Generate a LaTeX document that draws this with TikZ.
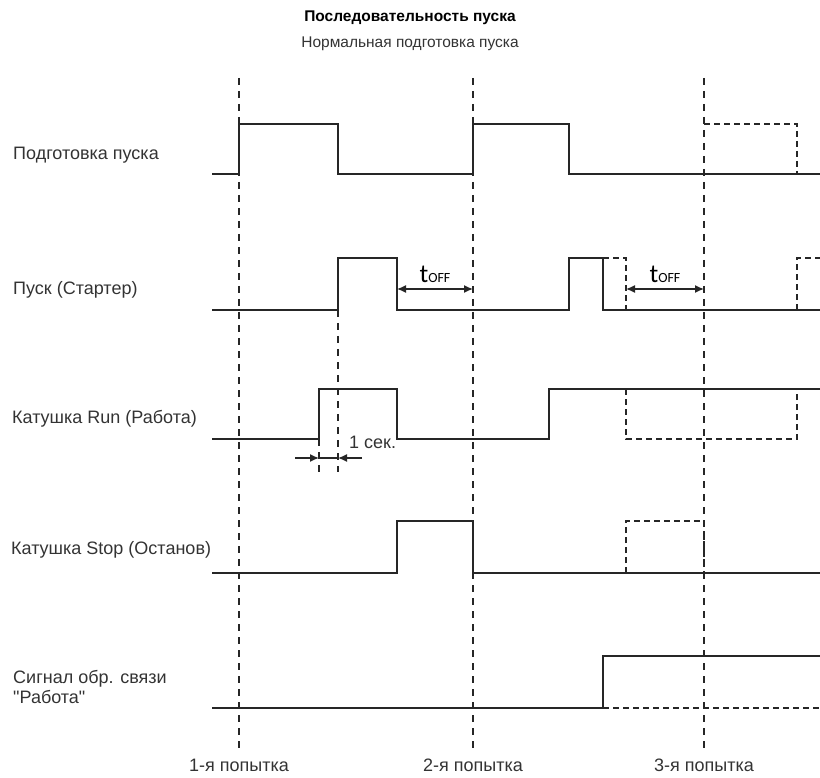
\documentclass[tikz,border=0pt]{standalone}
\usepackage{fontspec}
\setmainfont{Liberation Sans}
\newfontfamily\toffont{Carlito}
\usetikzlibrary{arrows.meta}
\colorlet{wave line}{black!85}
\colorlet{label text}{black!80}
\def\toff{{\toffont\fontsize{26}{26}\selectfont t\fontsize{14}{14}\selectfont OFF}}
\tikzset{signal/.style={draw=wave line, line width=1.6pt},
    option/.style={signal, dash pattern=on 6pt off 4pt},
    guide/.style={draw=wave line, line width=1.5pt, dash pattern=on 7pt off 6pt},
    measure/.style={draw=wave line, line width=1.4pt, -{Latex[length=9pt, width=8pt]}},
    rowlabel/.style={anchor=west, inner sep=0pt, text=label text, align=left,
        font=\fontsize{18}{20}\selectfont},
    trylabel/.style={anchor=base, inner sep=0pt, text=label text,
        font=\fontsize{18}{20}\selectfont}}

\begin{document}
\begin{tikzpicture}[x=1pt, y=-1pt]
    \useasboundingbox (0,0) rectangle (820,778);
    % titles
    \node[inner sep=0pt, font=\bfseries\fontsize{15.5}{18}\selectfont] (title) at (410,18)
      {Последовательность пуска};
    \node[inner sep=0pt, font=\fontsize{15.5}{18}\selectfont, text=label text] (subtitle) at (410,44)
      {Нормальная подготовка пуска};
    % attempts
    \foreach \x/\n in {239/1, 473/2, 704/3} {
        \draw[guide] (\x,78) -- (\x,752);
        \node[trylabel] (try \n) at (\x,771) {\n-я попытка};
    }
    % row labels
    \node[rowlabel] (prep)  at (13,155) {Подготовка пуска};
    \node[rowlabel] (start) at (13,290) {Пуск (Стартер)};
    \node[rowlabel] (run)   at (12,419) {Катушка Run (Работа)};
    \node[rowlabel] (stop)  at (11,550) {Катушка Stop (Останов)};
    \node[rowlabel] (fb)    at (13,687) {Сигнал обр. связи\\\textquotedbl Работа\textquotedbl};
    % waveforms
    \draw[signal] (212,174) -| (239,124) -| (338,174) -| (473,124) -| (569,174) -- (820,174);
    \draw[option] (704,124) -| (797,174);
    \draw[signal] (212,310) -| (338,258) -| (397,310) -| (569,258) -| (603,310) -- (820,310);
    \draw[option] (603,258) -| (626,310);
    \draw[option] (797,310) |- (820,258);
    \draw[signal] (212,439) -| (319,389) -| (397,439) -| (549,389) -- (820,389);
    \draw[option] (626,389) |- (797,439) -- (797,389);
    \draw[signal] (212,573) -| (397,521) -| (473,573) -- (820,573);
    \draw[option] (626,573) |- (704,521) -- (704,573);
    \draw[signal] (212,708) -| (603,656) -- (820,656);
    \draw[option] (603,708) -- (820,708);
    % t off
    \coordinate (off1 a) at (397,289);
    \coordinate (off1 b) at (473,289);
    \coordinate (off2 a) at (626,289);
    \coordinate (off2 b) at (704,289);
    \draw[measure, {Latex[length=9pt, width=8pt]}-{Latex[length=9pt, width=8pt]}] (off1 a) -- (off1 b) node[midway, above=2pt] (toff1) {\toff};
    \draw[measure, {Latex[length=9pt, width=8pt]}-{Latex[length=9pt, width=8pt]}] (off2 a) -- (off2 b) node[midway, above=2pt] (toff2) {\toff};
    % 1 sec
    \draw[guide] (338,310) -- (338,472);
    \draw[guide] (319,439) -- (319,472);
    \coordinate (sec a) at (295,458);
    \coordinate (sec b) at (319,458);
    \coordinate (sec c) at (338,458);
    \coordinate (sec d) at (362,458);
    \draw[measure] (sec a) -- (sec b);
    \draw[measure] (sec d) -- (sec c);
    \draw[signal, line width=1.4pt] (sec b) -- (sec c);
    \node[anchor=west, inner sep=0pt, text=label text, font=\fontsize{18}{20}\selectfont]
      (sec) at (349,442) {1 сек.};
\end{tikzpicture}
\end{document}
